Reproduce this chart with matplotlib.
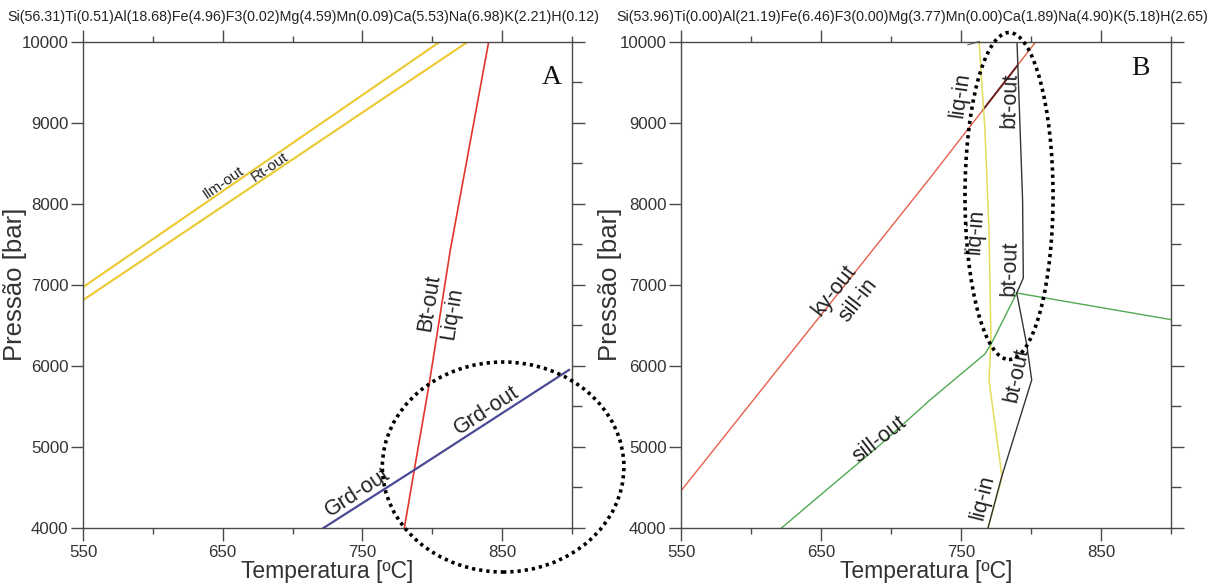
import numpy as np
import matplotlib
matplotlib.use("Agg")
import matplotlib.pyplot as plt
from matplotlib.patches import Ellipse
from matplotlib.ticker import MultipleLocator

plt.rcParams['font.family'] = ['Liberation Sans', 'DejaVu Sans']

# ---------------- data ----------------
title_a = "Si(56.31)Ti(0.51)Al(18.68)Fe(4.96)F3(0.02)Mg(4.59)Mn(0.09)Ca(5.53)Na(6.98)K(2.21)H(0.12)"
title_b = "Si(53.96)Ti(0.00)Al(21.19)Fe(6.46)F3(0.00)Mg(3.77)Mn(0.00)Ca(1.89)Na(4.90)K(5.18)H(2.65)"

t_min, t_max = 550, 900
p_min, p_max = 4000, 10000
x_ticks = [550, 650, 750, 850]
y_ticks = [4000, 5000, 6000, 7000, 8000, 9000, 10000]

# Panel A
ilm_T = [550, 805.7]
ilm_P = [6970, 10000]
rt_T = [550, 825.7]
rt_P = [6810, 10000]
btA_T = [780, 787.1, 797.9, 812.9, 840.4]
btA_P = [4000, 4715, 5788, 7428, 10000]
grd_T = [722.1, 787.1, 897.9]
grd_P = [4000, 4715, 5950]

# Panel B
ky_T = [550, 727.9, 803.6]
ky_P = [4458, 8317, 10000]
ky_dark_T = [766, 790]
liq_T = [762.9, 767.1, 770.0, 771.4, 770.0, 779.3, 769.3]
liq_P = [10000, 8909, 7676, 6320, 5825, 4629, 4000]
btB_T = [790, 794, 794.5, 789.8, 797, 800.5, 779, 769.3]
btB_P = [10000, 8043, 7083, 6898, 6256, 5825, 4629, 4000]
sillout_T = [621.8, 656.4, 692.1, 727.9, 767.1, 771.9, 789.8]
sillout_P = [4000, 4506, 5024, 5579, 6146, 6282, 6898]
grn2_T = [789.8, 900]
grn2_P = [6898, 6570]
small_T = [755, 763]
small_P = [9960, 10000]

# annotation ellipses (center T, center P, width T, height P)
ellA = (850.7, 4752, 172.9, 2590)
ellB = (784.3, 8094, 62.9, 4033)

# ---------------- figure ----------------
W, H = 1211, 587
fig = plt.figure(figsize=(W / 100, H / 100), dpi=100)

def px_axes(x0, x1, y_top, y_bot):
    return fig.add_axes([x0 / W, 1 - y_bot / H, (x1 - x0) / W, (y_bot - y_top) / H])

axA = px_axes(83, 572, 41.5, 528)
axB = px_axes(681, 1171, 41.5, 528)

spine_c = '#4a4a4a'
for ax in (axA, axB):
    ax.set_xlim(t_min, t_max)
    ax.set_ylim(p_min, p_max)
    for s in ax.spines.values():
        s.set_color(spine_c)
        s.set_linewidth(1.0)
    ax.set_xticks(x_ticks)
    ax.xaxis.set_minor_locator(MultipleLocator(50))
    ax.set_yticks(y_ticks)
    ax.yaxis.set_minor_locator(MultipleLocator(500))
    ax.tick_params(axis='x', which='major', direction='out', top=True, bottom=True,
                   length=9, width=1.0, color=spine_c, labelsize=12.2, labelcolor='#333333', pad=3)
    ax.tick_params(axis='x', which='minor', direction='out', top=True, bottom=True,
                   length=4.5, width=1.0, color=spine_c)
    ax.tick_params(axis='y', which='major', direction='out', left=True, right=True,
                   length=9, width=1.0, color=spine_c, labelsize=12.2, labelcolor='#333333', pad=1.5)
    ax.tick_params(axis='y', which='minor', direction='out', left=False, right=True,
                   length=7, width=1.0, color=spine_c)
    ax.set_xlabel('Temperatura [ºC]', fontsize=16.5, color='#333333')
    ax.set_ylabel('Pressão [bar]', fontsize=18.5, color='#333333')
    ax.xaxis.set_label_coords(0.5, -0.066)

axA.yaxis.set_label_coords(-0.115, 0.5)
axB.yaxis.set_label_coords(-0.12, 0.5)

fig.text(303 / W, 1 - 17 / H, title_a, ha='center', va='center', fontsize=10.3, color='#222222')
fig.text(912 / W, 1 - 17 / H, title_b, ha='center', va='center', fontsize=10.3, color='#222222')

# ---- Panel A lines
yel = '#ecc92e'
axA.plot(ilm_T, ilm_P, color=yel, lw=1.5, solid_capstyle='butt')
axA.plot(rt_T, rt_P, color=yel, lw=1.5, solid_capstyle='butt')
axA.plot(btA_T, btA_P, color='#e2352b', lw=1.2)
axA.plot(grd_T, grd_P, color='#4b4a94', lw=1.6)

lab = dict(color='#222222', ha='center', va='center', rotation_mode='anchor')
axA.text(650.7, 8265, 'Ilm-out', fontsize=11, rotation=34.5, **lab)
axA.text(683.6, 8456, 'Rt-out', fontsize=11, rotation=34, **lab)
axA.text(797.9, 6775, 'Bt-out', fontsize=15.5, rotation=81, **lab)
axA.text(814.3, 6652, 'Liq-in', fontsize=15.5, rotation=81, **lab)
axA.text(838.6, 5455, 'Grd-out', fontsize=15.5, rotation=33, **lab)
axA.text(746.4, 4444, 'Grd-out', fontsize=15.5, rotation=33, **lab)
axA.text(885.7, 9550, 'A', fontsize=20, family=['Liberation Serif', 'DejaVu Serif'],
         ha='center', va='center', color='#111111')

e = Ellipse((ellA[0], ellA[1]), ellA[2], ellA[3], fill=False, ec='black', lw=2.6,
            ls=(0, (0.9, 1.1)), clip_on=False, zorder=10)
axA.add_patch(e)

# ---- Panel B lines
axB.plot(ky_T, ky_P, color='#e8604c', lw=1.0)
axB.plot(ky_dark_T, np.interp(ky_dark_T, ky_T, ky_P), color='#6a2020', lw=1.4)
axB.plot(liq_T, liq_P, color='#e4dc5a', lw=1.1)
axB.plot(sillout_T, sillout_P, color='#52a852', lw=1.0)
axB.plot(grn2_T, grn2_P, color='#52a852', lw=1.0)
axB.plot(btB_T, btB_P, color='#333333', lw=1.0)
axB.plot(small_T, small_P, color='#666666', lw=0.9, clip_on=False)

axB.text(749.3, 9340, 'liq-in', fontsize=15.5, rotation=82, **lab)
axB.text(785.0, 9278, 'bt-out', fontsize=15.5, rotation=88, **lab)
axB.text(760.7, 7650, 'liq-in', fontsize=15.5, rotation=86, **lab)
axB.text(785.0, 7206, 'bt-out', fontsize=15.5, rotation=88, **lab)
axB.text(790.0, 5887, 'bt-out', fontsize=15.5, rotation=78, **lab)
axB.text(765.7, 4383, 'liq-in', fontsize=15.5, rotation=76, **lab)
axB.text(659.3, 6935, 'ky-out', fontsize=15.5, rotation=52, **lab)
axB.text(676.4, 6812, 'sill-in', fontsize=15.5, rotation=52, **lab)
axB.text(692.1, 5086, 'sill-out', fontsize=15.5, rotation=38, **lab)
axB.text(877.9, 9673, 'B', fontsize=20, family=['Liberation Serif', 'DejaVu Serif'],
         ha='center', va='center', color='#111111')

e2 = Ellipse((ellB[0], ellB[1]), ellB[2], ellB[3], fill=False, ec='black', lw=2.6,
             ls=(0, (0.9, 1.1)), clip_on=False, zorder=10)
axB.add_patch(e2)

fig.savefig('out.png', dpi=100)
